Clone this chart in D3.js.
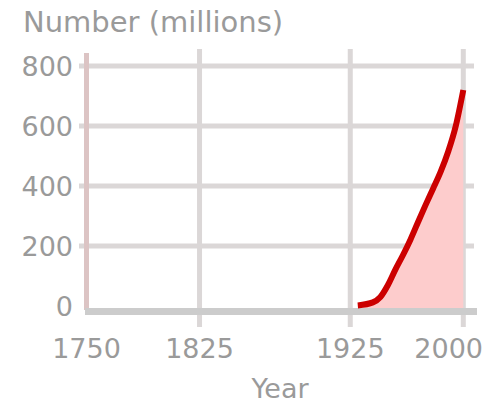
<!DOCTYPE html>
<html>
<head>
<meta charset="utf-8">
<script src="https://cdn.jsdelivr.net/npm/d3@7"></script>
<style>
  body { margin: 0; background: #fff; }
  text { font-family: "DejaVu Sans", sans-serif; fill: #9a9a9a; }
</style>
</head>
<body>
<script>
// data
var years = [1930, 1940, 1945, 1950, 1955, 1960, 1965, 1970, 1975, 1980, 1985, 1990, 1995, 2000];
var counts = [2, 12, 30, 70, 122, 170, 222, 280, 337, 392, 448, 515, 600, 720];
var yTicks = [0, 200, 400, 600, 800];
var xTicks = [1750, 1825, 1925, 2000];
var yTitle = "Number (millions)";
var xTitle = "Year";

var data = years.map(function (d, i) { return { year: d, value: counts[i] }; });

// set dimensions and margins
var margin = { top: 66, left: 86.5 },
    width = 376.8,
    height = 240;

var x = d3.scaleLinear()
    .domain([1750, 2000])
    .range([margin.left, margin.left + width]);

var y = d3.scaleLinear()
    .domain([0, 800])
    .range([margin.top + height, margin.top]);

var svg = d3.select("body").append("svg")
    .attr("width", 485)
    .attr("height", 405);

// horizontal grid
svg.selectAll(".hgrid")
    .data(yTicks.filter(function (d) { return d > 0; }))
    .enter()
    .append("line")
    .attr("class", "hgrid")
    .attr("x1", 79)
    .attr("x2", 474)
    .attr("y1", function (d) { return y(d); })
    .attr("y2", function (d) { return y(d); })
    .attr("stroke", "#dbd7d7")
    .attr("stroke-width", 5);

// vertical grid (first one is the pinkish y axis)
svg.selectAll(".vgrid")
    .data(xTicks)
    .enter()
    .append("line")
    .attr("class", "vgrid")
    .attr("x1", function (d) { return x(d); })
    .attr("x2", function (d) { return x(d); })
    .attr("y1", function (d, i) { return i === 0 ? 53 : 49; })
    .attr("y2", function (d, i) { return i === 0 ? 310 : 327; })
    .attr("stroke", function (d, i) { return i === 0 ? "#dcc4c4" : "#dbd7d7"; })
    .attr("stroke-width", 5);

// area under the curve
var area = d3.area()
    .curve(d3.curveMonotoneX)
    .x(function (d) { return x(d.year); })
    .y0(y(0) + 3)
    .y1(function (d) { return y(d.value); });

svg.append("path")
    .datum(data)
    .attr("d", area)
    .attr("fill", "#fdcccc");

// x axis line
svg.append("line")
    .attr("x1", 85)
    .attr("x2", 477)
    .attr("y1", y(0) + 5.5)
    .attr("y2", y(0) + 5.5)
    .attr("stroke", "#cccccc")
    .attr("stroke-width", 7);

// the curve
var line = d3.line()
    .curve(d3.curveMonotoneX)
    .x(function (d) { return x(d.year); })
    .y(function (d) { return y(d.value); });

svg.append("path")
    .datum(data)
    .attr("d", line)
    .attr("fill", "none")
    .attr("stroke", "#cc0000")
    .attr("stroke-width", 6)
    .attr("stroke-linejoin", "round");

// y tick labels
svg.selectAll(".ylab")
    .data(yTicks)
    .enter()
    .append("text")
    .attr("class", "ylab")
    .attr("x", 73)
    .attr("y", function (d) { return y(d) + 10; })
    .attr("text-anchor", "end")
    .style("font-size", "27px")
    .text(function (d) { return d; });

// x tick labels, last one kept inside the picture
svg.selectAll(".xlab")
    .data(xTicks)
    .enter()
    .append("text")
    .attr("class", "xlab")
    .attr("x", function (d, i) { return i === xTicks.length - 1 ? 483 : x(d); })
    .attr("y", 358)
    .attr("text-anchor", function (d, i) { return i === xTicks.length - 1 ? "end" : "middle"; })
    .style("font-size", "27px")
    .text(function (d) { return d; });

// titles
svg.append("text")
    .attr("x", 23)
    .attr("y", 32)
    .style("font-size", "29px")
    .text(yTitle);

svg.append("text")
    .attr("x", 280)
    .attr("y", 398)
    .attr("text-anchor", "middle")
    .style("font-size", "27px")
    .text(xTitle);
</script>
</body>
</html>
